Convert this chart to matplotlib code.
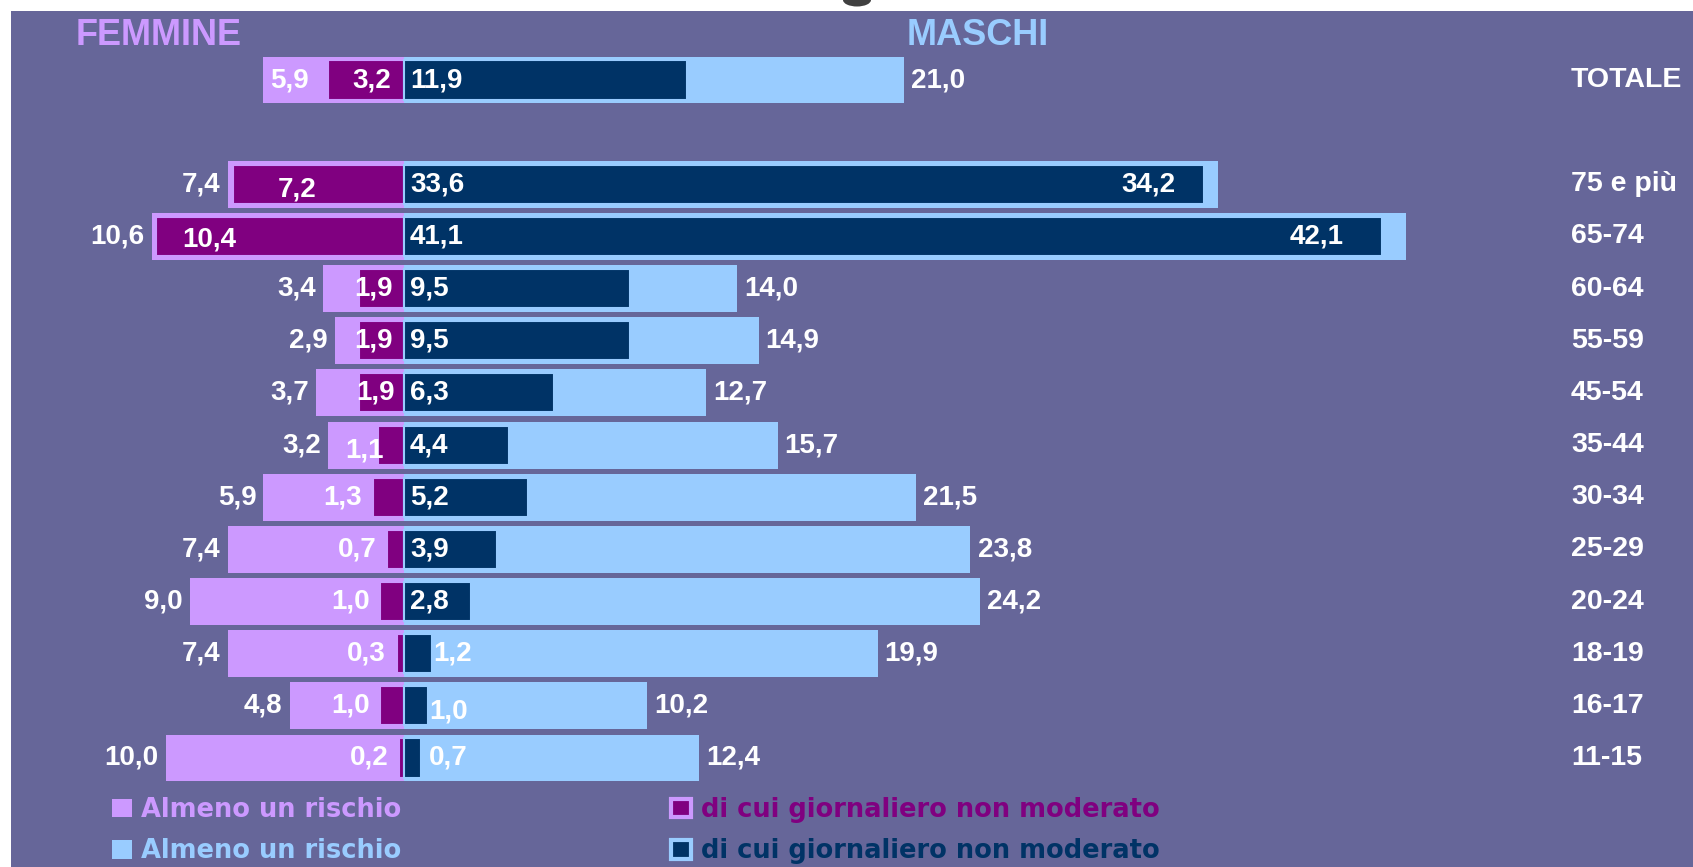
import matplotlib
matplotlib.use("Agg")
import matplotlib.pyplot as plt
from matplotlib.patches import Rectangle, Patch, Ellipse

# dati (%), dall'alto verso il basso
gruppi = ["TOTALE", "75 e più", "65-74", "60-64", "55-59", "45-54", "35-44",
          "30-34", "25-29", "20-24", "18-19", "16-17", "11-15"]
f_rischio = [5.9, 7.4, 10.6, 3.4, 2.9, 3.7, 3.2, 5.9, 7.4, 9.0, 7.4, 4.8, 10.0]
f_giorn = [3.2, 7.2, 10.4, 1.9, 1.9, 1.9, 1.1, 1.3, 0.7, 1.0, 0.3, 1.0, 0.2]
m_rischio = [21.0, 34.2, 42.1, 14.0, 14.9, 12.7, 15.7, 21.5, 23.8, 24.2, 19.9, 10.2, 12.4]
m_giorn = [11.9, 33.6, 41.1, 9.5, 9.5, 6.3, 4.4, 5.2, 3.9, 2.8, 1.2, 1.0, 0.7]

BG = "#666699"
F_LIGHT, F_DARK = "#CC99FF", "#800080"
M_LIGHT, M_DARK = "#99CCFF", "#003366"

plt.rcParams["font.family"] = ["Liberation Sans", "DejaVu Sans"]
plt.rcParams["font.weight"] = "bold"

fig = plt.figure(figsize=(16.93, 8.67), dpi=100)
fig.patch.set_facecolor("white")
fig.add_artist(Rectangle((11 / 1693, 0), 1, 856 / 867, transform=fig.transFigure,
                         facecolor=BG, edgecolor="none", zorder=-1))
# resto del titolo tagliato in alto
fig.add_artist(Ellipse((857 / 1693, 1.0), 28 / 1693, 13 / 867, transform=fig.transFigure,
                       facecolor="#404040", edgecolor="none", zorder=-1))

ax = fig.add_axes([0, 0, 1, 1])
ax.set_facecolor("none")
ax.axis("off")
ax.set_xlim(-16.97, 54.16)
ax.set_ylim(15.09, -1.534)

pos = [0] + list(range(2, 14))

ax.barh(pos, [-v for v in f_rischio], height=0.9, color=F_LIGHT)
ax.barh(pos, m_rischio, height=0.9, color=M_LIGHT)
ax.barh(pos, [-v for v in f_giorn], height=0.75, color=F_DARK, edgecolor=F_LIGHT, lw=1.5)
ax.barh(pos, m_giorn, height=0.75, color=M_DARK, edgecolor=M_LIGHT, lw=1.5)


def fmt(v):
    return f"{v:.1f}".replace(".", ",")


def lab(x, y, v, ha, dy=0.0):
    ax.text(x, y + dy, fmt(v), ha=ha, va="center", color="white", fontsize=20)


# etichette, con le posizioni un po' irregolari dell'originale
f_in_fix = {0: (-0.55, "right", 0), 1: (-4.5, "center", 0.1), 2: (-9.33, "left", 0.05),
            3: (-0.46, "right", 0), 4: (-0.46, "right", 0), 5: (-0.4, "right", 0),
            6: (-0.84, "right", 0.1)}
m_in_fix = {10: (1.22, 0), 11: (1.05, 0.1), 12: (1.05, 0)}
m_out_fix = {1: 32.4, 2: 39.5}

for i, y in enumerate(pos):
    # femmine, almeno un rischio
    if i == 0:
        lab(-f_rischio[i] + 0.27, y, f_rischio[i], "left")
    else:
        lab(-f_rischio[i] - 0.3, y, f_rischio[i], "right")
    # femmine, giornaliero
    if i in f_in_fix:
        x, ha, dy = f_in_fix[i]
        lab(x, y, f_giorn[i], ha, dy)
    else:
        lab(-f_giorn[i] - 0.45, y, f_giorn[i], "right")
    # maschi, giornaliero
    if i in m_in_fix:
        x, dy = m_in_fix[i]
        lab(x, y, m_giorn[i], "left", dy)
    else:
        lab(0.25, y, m_giorn[i], "left")
    # maschi, almeno un rischio
    if i in m_out_fix:
        lab(m_out_fix[i], y, m_rischio[i], "right")
    else:
        lab(m_rischio[i] + 0.3, y, m_rischio[i], "left")
    ax.text(49.03, y, gruppi[i], ha="left", va="center", color="white", fontsize=20.5)

ax.text(-13.78, -0.86, "FEMMINE", color=F_LIGHT, fontsize=26, ha="left", va="center")
ax.text(21.13, -0.86, "MASCHI", color=M_LIGHT, fontsize=26, ha="left", va="center")

handles = [Patch(facecolor=F_LIGHT, edgecolor="none"),
           Patch(facecolor=M_LIGHT, edgecolor="none"),
           Patch(facecolor=F_DARK, edgecolor=F_LIGHT, lw=3),
           Patch(facecolor=M_DARK, edgecolor=M_LIGHT, lw=3)]
labels = ["Almeno un rischio", "Almeno un rischio",
          "di cui giornaliero non moderato", "di cui giornaliero non moderato"]
fig.legend(handles, labels, loc="upper left", bbox_to_anchor=(112 / 1693, 1 - 797 / 867),
           ncol=2, frameon=False, borderpad=0, borderaxespad=0,
           prop={"family": "DejaVu Sans", "weight": "bold", "size": 18.5},
           labelcolor=[F_LIGHT, M_LIGHT, F_DARK, M_DARK],
           handlelength=0.78, handleheight=0.75, handletextpad=0.36,
           columnspacing=10.5, labelspacing=0.6)

fig.savefig("out.png", dpi=100)
